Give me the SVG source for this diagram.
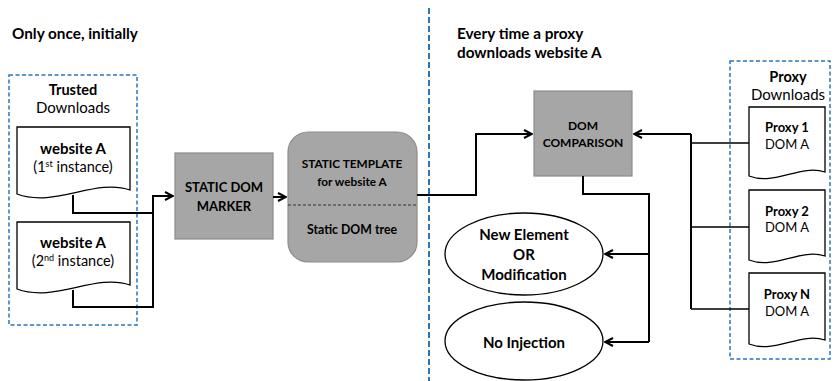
<svg xmlns="http://www.w3.org/2000/svg" width="835" height="381" viewBox="0 0 835 381">
<style>
text{font-family:Lato,"Open Sans","Liberation Sans",sans-serif;fill:#000;text-anchor:middle}
.b{font-weight:bold}
.h{font-weight:bold;font-size:15.3px;text-anchor:start}
.t15{font-size:15px}
.t14{font-size:14.5px}
.t12{font-size:12.3px}
.doc{fill:#fff;stroke:#000;stroke-width:1.3}
.grp{fill:none;stroke:#2e75b6;stroke-width:1.5;stroke-dasharray:4,2.5}
.proc{fill:#a6a6a6;stroke:#8c8c8c;stroke-width:1.2}
.ell{fill:#fff;stroke:#000;stroke-width:1.3}
.c{fill:none;stroke:#000;stroke-width:2}
.ct{fill:none;stroke:#000;stroke-width:1.3}
</style>
<defs>
<marker id="ah" viewBox="0 0 10 10" refX="9" refY="5" markerWidth="5" markerHeight="5" orient="auto" markerUnits="strokeWidth">
<path d="M1,1 L9,5 L1,9" fill="none" stroke="#000" stroke-width="2"/>
</marker>
</defs>
<rect width="835" height="381" fill="#fff"/>
<line x1="429" y1="8" x2="429" y2="381" stroke="#2e75b6" stroke-width="2" stroke-dasharray="6,3"/>
<text class="h" x="12" y="39">Only once, initially</text>
<text class="h" x="457" y="39">Every time a proxy</text>
<text class="h" x="457" y="58">downloads website A</text>

<g id="trusted">
<rect class="grp" x="9" y="75" width="128" height="250"/>
<text class="b t14" x="73" y="95">Trusted</text>
<text class="t15" x="73" y="113">Downloads</text>
</g>
<g id="doc1">
<path class="doc" d="M17,127 H130 V190 C95,178 55,208 17,194 Z"/>
<text class="b t15" x="73" y="154">website A</text>
<text class="t14" x="73" y="172">(1<tspan font-size="9" dy="-5">st</tspan><tspan dy="5"> instance)</tspan></text>
</g>
<g id="doc2">
<path class="doc" d="M17,222 H130 V285 C95,273 55,303 17,289 Z"/>
<text class="b t15" x="73" y="248">website A</text>
<text class="t14" x="73" y="266">(2<tspan font-size="9" dy="-5">nd</tspan><tspan dy="5"> instance)</tspan></text>
</g>
<g id="marker">
<rect class="proc" x="175" y="153" width="98" height="86"/>
<text class="b" x="224" y="192" font-size="13">STATIC DOM</text>
<text class="b" x="224" y="211" font-size="13">MARKER</text>
</g>
<g id="template">
<rect class="proc" x="288" y="132" width="129" height="130" rx="20"/>
<line x1="288" y1="205" x2="417" y2="205" stroke="#333" stroke-width="1.2" stroke-dasharray="3,2"/>
<text class="b" x="352" y="168" font-size="11.8">STATIC TEMPLATE</text>
<text class="b" x="352" y="186" font-size="11.8">for website A</text>
<text class="b t12" x="352" y="234">Static DOM tree</text>
</g>
<g id="comparison">
<rect class="proc" x="534" y="91" width="98" height="85"/>
<text class="b" x="583" y="130" font-size="12">DOM</text>
<text class="b" x="583" y="147" font-size="12">COMPARISON</text>
</g>
<g id="newelem">
<ellipse class="ell" cx="524" cy="254" rx="79" ry="41"/>
<text class="b t15" x="524" y="240">New Element</text>
<text class="b t15" x="524" y="260">OR</text>
<text class="b t15" x="524" y="280">Modification</text>
</g>
<g id="noinj">
<ellipse class="ell" cx="524" cy="341" rx="79" ry="39"/>
<text class="b t15" x="524" y="348">No Injection</text>
</g>
<g id="proxy">
<rect class="grp" x="730" y="61" width="100" height="298"/>
<text class="b" x="788" y="82" font-size="14.5">Proxy</text>
<text x="788" y="100" font-size="15">Downloads</text>
</g>
<g id="proxy1">
<path class="doc" d="M749,107 H825 V172 C800,164 775,186 749,176 Z"/>
<text class="b" x="787" y="132" font-size="13">Proxy 1</text>
<text x="787" y="149" font-size="13">DOM A</text>
</g>
<g id="proxy2">
<path class="doc" d="M749,190 H825 V256 C800,248 775,270 749,260 Z"/>
<text class="b" x="787" y="216" font-size="13">Proxy 2</text>
<text x="787" y="232" font-size="13">DOM A</text>
</g>
<g id="proxyN">
<path class="doc" d="M749,273 H825 V340 C800,332 775,354 749,344 Z"/>
<text class="b" x="787" y="299" font-size="13">Proxy N</text>
<text x="787" y="316" font-size="13">DOM A</text>
</g>
<g id="connectors">
<path class="c" d="M73,195 V213 H153 V196 H173" marker-end="url(#ah)"/>
<path class="c" d="M73,290 V307 H153 V213"/>
<path class="c" d="M273,197 H286" marker-end="url(#ah)"/>
<path class="c" d="M417,195 H476 V134 H532" marker-end="url(#ah)"/>
<path class="c" d="M691,134 H634" marker-end="url(#ah)"/>
<path class="c" d="M691,134 V309"/>
<path class="ct" d="M691,143 H749 M691,227 H749 M691,309 H749"/>
<path class="c" d="M583,176 V194 H649 V342"/>
<path class="c" d="M649,254 H605" marker-end="url(#ah)"/>
<path class="c" d="M649,342 H605" marker-end="url(#ah)"/>
</g>
</svg>
